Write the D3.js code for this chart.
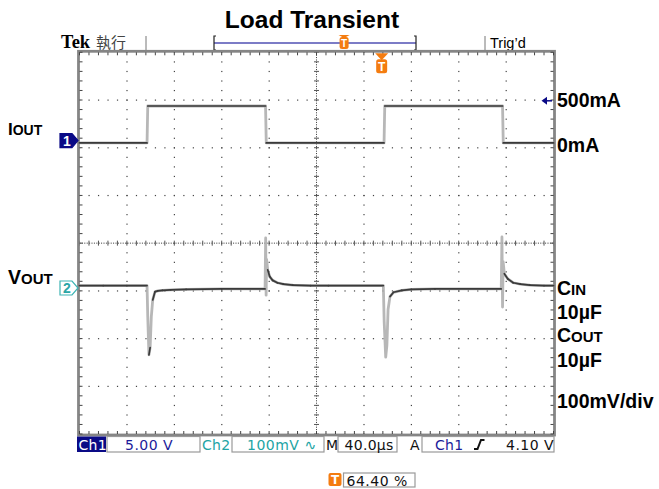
<!DOCTYPE html>
<html>
<head>
<meta charset="utf-8">
<script src="https://cdn.jsdelivr.net/npm/d3@7"></script>
<style>
body{margin:0;background:#fff}
svg{display:block;font-family:"Liberation Sans",Arial,sans-serif}
</style>
</head>
<body>
<svg id="chart" width="659" height="489"></svg>
<script>
// scope settings
var timePerDiv = 40      // us/div
var nDivX = 10, nDivY = 8
var ch1MaPerDiv = 600    // IOUT scale
var ch2MvPerDiv = 100    // VOUT scale, AC coupled
var ch1Offset = 2.15     // ground marker positions, in divisions from centre
var ch2Offset = -0.94
var trigTime = 255       // us
var trigPct = 64.40

// Ch1 : IOUT (mA)
var ioutT  = [0, 57, 57.6, 157, 157.6, 257, 257.6, 357, 357.6, 400]
var ioutMA = [-30, -30, 435, 435, -30, -30, 435, 435, -30, -30]

// Ch2 : VOUT (mV)
var voutT  = [0, 20, 40, 57, 57.6, 58.6, 59.6, 60.6, 61.8, 63.7,
              66, 70, 77, 90, 120, 156.6, 157.1, 157.5, 157.9, 158.8,
              160.5, 163, 167, 172, 180, 195, 210, 256.4, 257.1, 258.4,
              259.4, 260.4, 262, 265, 272, 280, 300, 355.9, 356.5, 357,
              357.5, 358.5, 361.5, 366, 372, 380, 392, 400]
var voutMV = [5, 5, 5, 5, -60, -140, -125, -60, -25, -8,
              -6, -5, -4, -3, -2, -2, 105, -15, 60, 38,
              24, 16, 11, 8, 6, 5, 5, 5, -70, -145,
              -120, -45, -18, -9, -5, -3, -2, -2, 107, -40,
              55, 30, 19, 11, 8, 6, 5, 5]

// status bar texts
var statusTexts = ["Ch1", "5.00 V", "Ch2", "100mV \u223F", "M", "40.0\u00B5s", "A", "Ch1", "4.10 V"]

var svg = d3.select("#chart")
var X0 = 79.5, X1 = 553.5, Y0 = 52.3, Y1 = 434

var x = d3.scaleLinear().domain([0, timePerDiv * nDivX]).range([X0, X1])
var yDiv = d3.scaleLinear().domain([-nDivY / 2, nDivY / 2]).range([Y1, Y0])
var y1 = function(v){ return yDiv(ch1Offset + v / ch1MaPerDiv) }
var y2 = function(v){ return yDiv(ch2Offset + v / ch2MvPerDiv) }
var divW = (X1 - X0) / nDivX, divH = (Y1 - Y0) / nDivY

// ---- title / header
svg.append("text").attr("x", 312).attr("y", 28).attr("text-anchor", "middle")
	.style("font-size", "24.5px").style("font-weight", "bold").text("Load Transient")

svg.append("text").attr("x", 61).attr("y", 47.5)
	.style("font-family", "'Liberation Serif',serif").style("font-weight", "bold").style("font-size", "18.5px")
	.text("Tek")
svg.append("text").attr("x", 96).attr("y", 47.5)
	.style("font-family", "'Noto Sans CJK TC',sans-serif").style("font-size", "15px").attr("fill", "#444")
	.text("執行")
svg.append("line").attr("x1", 146).attr("x2", 146).attr("y1", 36).attr("y2", 52).attr("stroke", "#777")
svg.append("line").attr("x1", 485).attr("x2", 485).attr("y1", 36).attr("y2", 52).attr("stroke", "#777")
svg.append("text").attr("x", 490).attr("y", 47.5).style("font-size", "14.5px").text("Trig\u2019d")

// record bar
var barX0 = 214, barX1 = 416
svg.append("line").attr("x1", barX0).attr("x2", barX1).attr("y1", 43).attr("y2", 43)
	.attr("stroke", "#7c7cc6").attr("stroke-width", 2)
svg.append("path").attr("d", "M" + (barX0 + 2) + ",36H" + barX0 + "V50H" + (barX0 + 2))
	.attr("fill", "none").attr("stroke", "#222").attr("stroke-width", 1.2)
svg.append("path").attr("d", "M" + (barX1 - 2) + ",36H" + barX1 + "V50H" + (barX1 - 2))
	.attr("fill", "none").attr("stroke", "#222").attr("stroke-width", 1.2)

function trigMarker(cx, top, w, tri, h){
	var g = svg.append("g")
	g.append("path").attr("d", "M" + (cx - w / 2 - 1) + "," + top + "L" + (cx + w / 2 + 1) + "," + top + "L" + cx + "," + (top + tri) + "Z")
		.attr("fill", "#f47c10")
	g.append("rect").attr("x", cx - w / 2).attr("y", top + tri - 1).attr("width", w).attr("height", h)
		.attr("rx", 2.5).attr("fill", "#f47c10")
	g.append("text").attr("x", cx).attr("y", top + tri + h - 3).attr("text-anchor", "middle")
		.attr("fill", "#fff").style("font-weight", "bold").style("font-size", (h - 2) + "px").text("T")
}
trigMarker(barX0 + (barX1 - barX0) * trigPct / 100, 35, 9, 3, 12)

// ---- graticule
var grid = svg.append("g")
var minor = d3.range(0, nDivX * 5 + 1)
var minorY = d3.range(0, nDivY * 5 + 1)

// dotted major lines
d3.range(1, nDivX).forEach(function(i){
	if(i == nDivX / 2) return
	grid.selectAll(null).data(minorY).enter().append("rect")
		.attr("x", X0 + i * divW - 0.5).attr("y", function(k){ return Y0 + k * divH / 5 - 0.5 })
		.attr("width", 1.2).attr("height", 1.2).attr("fill", "#444")
})
d3.range(1, nDivY).forEach(function(j){
	if(j == nDivY / 2) return
	grid.selectAll(null).data(minor).enter().append("rect")
		.attr("y", Y0 + j * divH - 0.5).attr("x", function(k){ return X0 + k * divW / 5 - 0.5 })
		.attr("width", 1.2).attr("height", 1.2).attr("fill", "#444")
})
// centre lines with ticks
var cx = X0 + divW * nDivX / 2, cy = Y0 + divH * nDivY / 2
grid.append("line").attr("x1", X0).attr("x2", X1).attr("y1", cy).attr("y2", cy)
	.attr("stroke", "#333").attr("stroke-dasharray", "1,1.4")
grid.append("line").attr("y1", Y0).attr("y2", Y1).attr("x1", cx).attr("x2", cx)
	.attr("stroke", "#333").attr("stroke-dasharray", "1,1.4")
grid.selectAll(null).data(minor).enter().append("line")
	.attr("x1", function(k){ return X0 + k * divW / 5 }).attr("x2", function(k){ return X0 + k * divW / 5 })
	.attr("y1", cy - 2.5).attr("y2", cy + 2.5).attr("stroke", "#555")
grid.selectAll(null).data(minorY).enter().append("line")
	.attr("y1", function(k){ return Y0 + k * divH / 5 }).attr("y2", function(k){ return Y0 + k * divH / 5 })
	.attr("x1", cx - 2.5).attr("x2", cx + 2.5).attr("stroke", "#555")

// frame
grid.append("rect").attr("x", X0 - 1).attr("y", Y0 - 1).attr("width", X1 - X0 + 2).attr("height", Y1 - Y0 + 2)
	.attr("fill", "none").attr("stroke", "#858585").attr("stroke-width", 2.8)
grid.selectAll(null).data(minor).enter().append("line")
	.attr("x1", function(k){ return X0 + k * divW / 5 }).attr("x2", function(k){ return X0 + k * divW / 5 })
	.attr("y1", Y0).attr("y2", Y0 + 3).attr("stroke", "#444")
grid.selectAll(null).data(minor).enter().append("line")
	.attr("x1", function(k){ return X0 + k * divW / 5 }).attr("x2", function(k){ return X0 + k * divW / 5 })
	.attr("y1", Y1).attr("y2", Y1 - 3).attr("stroke", "#444")
grid.selectAll(null).data(minorY).enter().append("line")
	.attr("y1", function(k){ return Y0 + k * divH / 5 }).attr("y2", function(k){ return Y0 + k * divH / 5 })
	.attr("x1", X0).attr("x2", X0 + 3).attr("stroke", "#444")
grid.selectAll(null).data(minorY).enter().append("line")
	.attr("y1", function(k){ return Y0 + k * divH / 5 }).attr("y2", function(k){ return Y0 + k * divH / 5 })
	.attr("x1", X1).attr("x2", X1 - 3).attr("stroke", "#444")

// ---- traces
function drawTrace(pts){
	var g = svg.append("g")
	var line = d3.line().x(function(d){ return d[0] }).y(function(d){ return d[1] })
	g.append("path").attr("d", line(pts)).attr("fill", "none")
		.attr("stroke", "#aaa").attr("stroke-width", 2.8).attr("stroke-linejoin", "round").attr("opacity", 0.85)
	for(var i = 1; i < pts.length; i++){
		var dx = pts[i][0] - pts[i - 1][0], dy = pts[i][1] - pts[i - 1][1]
		if(Math.abs(dy) > 4 * Math.abs(dx) + 4) continue
		g.append("line").attr("x1", pts[i - 1][0]).attr("y1", pts[i - 1][1]).attr("x2", pts[i][0]).attr("y2", pts[i][1])
			.attr("stroke", "#3a3a3a").attr("stroke-width", 1.7).attr("stroke-linecap", "round")
	}
}
drawTrace(ioutT.map(function(t, i){ return [x(t), y1(ioutMA[i])] }))
drawTrace(voutT.map(function(t, i){ return [x(t), y2(voutMV[i])] }))

// trigger position marker on the graticule
trigMarker(x(trigTime), Y0 + 1, 11, 7, 14)

// ---- channel markers
function chMarker(yc, label, fill, stroke, txt){
	var g = svg.append("g")
	g.append("path").attr("d", "M60," + (yc - 7) + "H72L78," + yc + "L72," + (yc + 7) + "H60Z")
		.attr("fill", fill).attr("stroke", stroke).attr("stroke-width", 1.2)
	g.append("text").attr("x", 67).attr("y", yc + 5).attr("text-anchor", "middle")
		.attr("fill", txt).style("font-weight", "bold").style("font-size", "14px").text(label)
}
chMarker(y1(0), "1", "#0a0a86", "#0a0a86", "#fff")
chMarker(y2(0), "2", "#fff", "#3cb4b4", "#2aa6a6")

// 500mA reference arrow
var yRef = y1(500)
svg.append("path").attr("d", "M541.5," + yRef + "L547," + (yRef - 4) + "L547," + (yRef + 4) + "Z").attr("fill", "#0a0a86")
svg.append("line").attr("x1", 546).attr("x2", 552).attr("y1", yRef).attr("y2", yRef).attr("stroke", "#0a0a86").attr("stroke-width", 1.5)

// ---- annotation labels
function capLabel(xp, yp, big, small, bigSize, smallSize){
	var t = svg.append("text").attr("x", xp).attr("y", yp).style("font-weight", "bold")
	t.append("tspan").style("font-size", bigSize + "px").text(big)
	if(small) t.append("tspan").style("font-size", smallSize + "px").text(small)
}
capLabel(8, 135, "I", "OUT", 17, 14)
capLabel(8, 284, "V", "OUT", 19.5, 15)
capLabel(557, 107, "500mA", null, 19.5)
capLabel(557, 152, "0mA", null, 19.5)
capLabel(557, 295, "C", "IN", 19.5, 15)
capLabel(557, 319, "10\u00B5F", null, 19.5)
capLabel(557, 342, "C", "OUT", 19.5, 15)
capLabel(557, 367, "10\u00B5F", null, 19.5)
capLabel(557, 408, "100mV/div", null, 19.5)

// ---- status bar
var sb = svg.append("g").style("font-family", "'DejaVu Sans',sans-serif").style("font-size", "14px")
var by = 436.5, bh = 15.5, tb = 449.5
function box(x0, x1, y0, h){
	sb.append("rect").attr("x", x0).attr("y", y0).attr("width", x1 - x0).attr("height", h)
		.attr("fill", "#fff").attr("stroke", "#9a9a9a").attr("stroke-width", 1.2)
}
sb.append("rect").attr("x", 77).attr("y", by).attr("width", 29).attr("height", bh).attr("fill", "#0a0a86")
box(107, 200, by, bh); box(232, 324, by, bh); box(338, 397, by, bh); box(422, 554, by, bh)
var navy = "#1c1c9a", teal = "#22a4a4"
function stext(xp, col, str, ls){
	sb.append("text").attr("x", xp).attr("y", tb).attr("fill", col).style("letter-spacing", (ls || 0) + "px").text(str)
}
stext(78.5, "#fff", statusTexts[0], 0.3)
stext(125, navy, statusTexts[1], 0.5)
stext(202, teal, statusTexts[2], 0.3)
stext(247, teal, statusTexts[3], 0.5)
stext(326, "#111", statusTexts[4])
stext(344.5, "#111", statusTexts[5], 0.3)
stext(410, "#111", statusTexts[6])
stext(435, navy, statusTexts[7], 0.3)
sb.append("path").attr("d", "M474,449H477.5L481,440H484.5").attr("fill", "none").attr("stroke", "#111").attr("stroke-width", 2)
stext(506, "#111", statusTexts[8], 0.5)

// trigger position readout
sb.append("rect").attr("x", 328.5).attr("y", 473).attr("width", 13).attr("height", 13).attr("rx", 2).attr("fill", "#f47c10")
sb.append("text").attr("x", 335).attr("y", 484).attr("text-anchor", "middle").attr("fill", "#fff")
	.style("font-weight", "bold").style("font-size", "12px").text("T")
box(343.5, 415, 473, 14)
sb.append("text").attr("x", 346.5).attr("y", 485.5).attr("fill", "#111").style("letter-spacing", "0.5px")
	.text(d3.format(".2f")(trigPct) + " %")
</script>
</body>
</html>
